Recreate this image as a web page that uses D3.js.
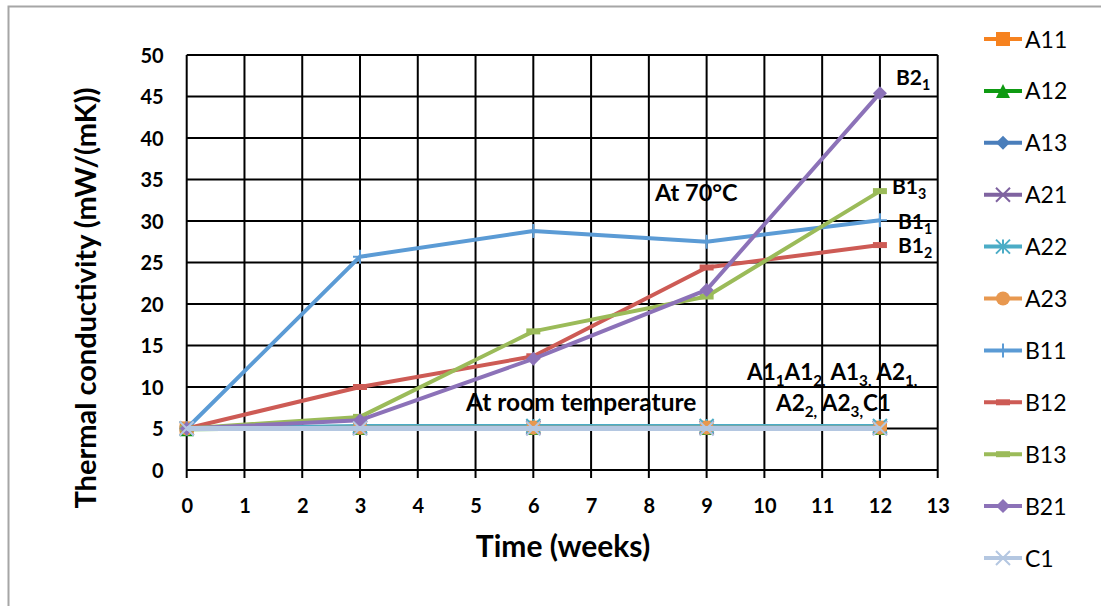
<!DOCTYPE html>
<html>
<head>
<meta charset="utf-8">
<script src="https://cdn.jsdelivr.net/npm/d3@7"></script>
<style>
  html, body { margin: 0; padding: 0; background: #fff; }
  svg { display: block; font-family: Lato, "Open Sans", sans-serif; }
</style>
</head>
<body>
<svg id="chart" width="1101" height="606"></svg>
<script>
// Time points (weeks) and thermal conductivity per sample, mW/(mK)
const weeks = [0, 3, 6, 9, 12];
const A11 = [5.0, 5.1, 5.1, 5.1, 5.1];
const A12 = [4.9, 5.1, 5.1, 5.1, 5.1];
const A13 = [5.0, 5.1, 5.1, 5.1, 5.1];
const A21 = [5.0, 5.1, 5.1, 5.1, 5.1];
const A22 = [5.0, 5.3, 5.3, 5.3, 5.3];
const A23 = [5.0, 5.1, 5.1, 5.1, 5.1];
const B11 = [5.0, 25.7, 28.8, 27.5, 30.1];
const B12 = [5.0, 10.0, 13.7, 24.4, 27.1];
const B13 = [5.0, 6.4, 16.7, 20.9, 33.6];
const B21 = [5.0, 6.0, 13.4, 21.7, 45.4];
const C1  = [5.0, 5.0, 5.0, 5.0, 5.0];

const seriesNames = ["A11", "A12", "A13", "A21", "A22", "A23", "B11", "B12", "B13", "B21", "C1"];
const seriesValues = [A11, A12, A13, A21, A22, A23, B11, B12, B13, B21, C1];
const seriesColors = ["#F6821F", "#0E9A12", "#4A7EBB", "#7F63A0", "#4BACC6", "#E8984F",
                      "#5B9BD5", "#CD5B55", "#9BBB59", "#8C72B8", "#B4C7E1"];
const seriesMarkers = ["square", "triangle", "diamond", "x", "asterisk", "circle",
                       "plus", "dash", "dash", "diamond", "x"];

const xTicks = d3.range(0, 14);
const yTicks = [0, 5, 10, 15, 20, 25, 30, 35, 40, 45, 50];

const svg = d3.select("#chart");

// chart frame
svg.append("rect")
  .attr("x", 8.5).attr("y", 6.5).attr("width", 1200).attr("height", 700)
  .attr("fill", "none").attr("stroke", "#a6a6a6").attr("stroke-width", 2);

const plot = { left: 186.7, right: 937.7, top: 55, bottom: 470 };
const x = d3.scaleLinear().domain([0, 13]).range([plot.left, plot.right]);
const y = d3.scaleLinear().domain([0, 50]).range([plot.bottom, plot.top]);

// grid
const grid = svg.append("g").attr("stroke", "#000").attr("stroke-width", 2);
grid.selectAll("line.h").data(yTicks).join("line")
  .attr("x1", plot.left).attr("x2", plot.right)
  .attr("y1", d => y(d)).attr("y2", d => y(d));
grid.selectAll("line.v").data(xTicks).join("line")
  .attr("x1", d => x(d)).attr("x2", d => x(d))
  .attr("y1", plot.top).attr("y2", plot.bottom + 8);

// axes labels
const xAxis = svg.append("g")
  .attr("transform", `translate(0,${plot.bottom})`)
  .call(d3.axisBottom(x).tickValues(xTicks).tickSize(0));
const yAxis = svg.append("g")
  .attr("transform", `translate(${plot.left},0)`)
  .call(d3.axisLeft(y).tickValues(yTicks).tickSize(0).tickPadding(23));
[xAxis, yAxis].forEach(a => {
  a.select(".domain").remove();
  a.selectAll("text")
    .attr("font-family", "Lato, sans-serif")
    .attr("font-size", 20).attr("font-weight", 700).attr("fill", "#000");
});
xAxis.selectAll("text").attr("dy", 0).attr("y", 43);
yAxis.selectAll("text").attr("dy", "0.36em");

// axis titles
svg.append("text")
  .attr("x", 563).attr("y", 557)
  .attr("text-anchor", "middle")
  .attr("font-size", 30).attr("font-weight", 700)
  .text("Time (weeks)");
svg.append("text")
  .attr("transform", "translate(96,298) rotate(-90)")
  .attr("text-anchor", "middle")
  .attr("font-size", 29).attr("font-weight", 700)
  .text("Thermal conductivity (mW/(mK))");

// marker shapes
function drawMarker(g, type, color, s) {
  const h = s / 2;
  switch (type) {
    case "square":
      g.append("rect").attr("x", -h).attr("y", -h).attr("width", s).attr("height", s).attr("fill", color);
      break;
    case "triangle":
      g.append("path").attr("d", `M0,${-h}L${h},${h}L${-h},${h}Z`).attr("fill", color);
      break;
    case "diamond":
      g.append("path").attr("d", `M0,${-h}L${h},0L0,${h}L${-h},0Z`).attr("fill", color);
      break;
    case "circle":
      g.append("circle").attr("r", h).attr("fill", color);
      break;
    case "x":
      g.append("path").attr("d", `M${-h},${-h}L${h},${h}M${-h},${h}L${h},${-h}`)
        .attr("stroke", color).attr("stroke-width", 2).attr("fill", "none");
      break;
    case "asterisk":
      g.append("path").attr("d", `M${-h},${-h}L${h},${h}M${-h},${h}L${h},${-h}M0,${-h}L0,${h}`)
        .attr("stroke", color).attr("stroke-width", 2).attr("fill", "none");
      break;
    case "plus":
      g.append("path").attr("d", `M${-h},0L${h},0M0,${-h}L0,${h}`)
        .attr("stroke", color).attr("stroke-width", 2).attr("fill", "none");
      break;
    case "dash":
      g.append("path").attr("d", `M${-h},0L${h},0`)
        .attr("stroke", color).attr("stroke-width", 6).attr("fill", "none");
      break;
  }
}

const line = d3.line().x(d => x(d[0])).y(d => y(d[1]));

seriesNames.forEach((name, i) => {
  const pts = weeks.map((w, k) => [w, seriesValues[i][k]]);
  const g = svg.append("g").attr("class", "series-" + name);
  g.append("path")
    .datum(pts)
    .attr("d", line)
    .attr("fill", "none")
    .attr("stroke", seriesColors[i])
    .attr("stroke-width", name === "C1" ? 5 : 4)
    .attr("stroke-linejoin", "round");
  pts.forEach(p => {
    const m = g.append("g").attr("transform", `translate(${x(p[0])},${y(p[1])})`);
    drawMarker(m, seriesMarkers[i], seriesColors[i], 14);
  });
});

// legend
const legend = svg.append("g");
seriesNames.forEach((name, i) => {
  const ly = 39 + i * 51.9;
  const g = legend.append("g").attr("transform", `translate(984,${ly})`);
  g.append("line").attr("x1", 0).attr("x2", 38).attr("y1", 0).attr("y2", 0)
    .attr("stroke", seriesColors[i]).attr("stroke-width", 4);
  const m = g.append("g").attr("transform", "translate(19,0)");
  drawMarker(m, seriesMarkers[i], seriesColors[i], 14);
  g.append("text").attr("x", 41).attr("y", 8.5)
    .attr("font-size", 23).attr("fill", "#000").text(name);
});

// annotations with subscripts
function label(xp, yp, parts, size) {
  const t = svg.append("text").attr("x", xp).attr("y", yp)
    .attr("font-size", size).attr("font-weight", 700).attr("fill", "#000");
  let lowered = false;
  const shift = size * 0.26;
  parts.forEach(p => {
    const ts = t.append("tspan").text(p.t);
    if (p.sub && !lowered) { ts.attr("dy", shift).attr("font-size", size * 0.68); lowered = true; }
    else if (p.sub) { ts.attr("font-size", size * 0.68); }
    else if (!p.sub && lowered) { ts.attr("dy", -shift); lowered = false; }
  });
  return t;
}

label(896, 85, [{ t: "B2" }, { t: "1", sub: true }], 21);
label(892, 194, [{ t: "B1" }, { t: "3", sub: true }], 21);
label(898, 229, [{ t: "B1" }, { t: "1", sub: true }], 21);
label(898, 253, [{ t: "B1" }, { t: "2", sub: true }], 21);
label(655, 201, [{ t: "At 70°C" }], 23.5);
label(466, 411, [{ t: "At room temperature" }], 24.5);
label(747, 380, [
  { t: "A1" }, { t: "1", sub: true }, { t: "A1" }, { t: "2,", sub: true },
  { t: " A1" }, { t: "3,", sub: true }, { t: " A2" }, { t: "1,", sub: true }
], 22.5);
label(776, 411, [
  { t: "A2" }, { t: "2,", sub: true }, { t: " A2" }, { t: "3,", sub: true }, { t: "C1" }
], 22.5);
</script>
</body>
</html>
